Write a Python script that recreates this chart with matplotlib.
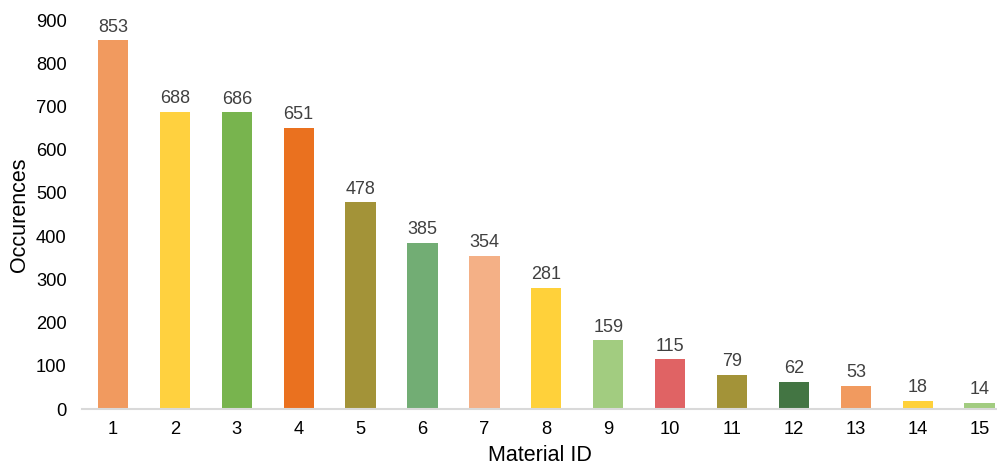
import matplotlib
matplotlib.use("Agg")
import matplotlib.pyplot as plt

plt.rcParams['font.family'] = ['Liberation Sans', 'DejaVu Sans']

material_ids = [str(i) for i in range(1, 16)]
occurrences = [853, 688, 686, 651, 478, 385, 354, 281, 159, 115, 79, 62, 53, 18, 14]
colors = ["#F19A5F", "#FFD13F", "#78B44E", "#EA711F", "#A39338", "#72AD74", "#F4B086",
          "#FFD13A", "#A2CC80", "#E06364", "#A39338", "#437543", "#F19A5F", "#FFD13A", "#A2CC80"]
yticks = [0, 100, 200, 300, 400, 500, 600, 700, 800, 900]

fig = plt.figure(figsize=(9.97, 4.67), dpi=100)
ax = fig.add_axes([82/997, 58/467, 1 - 82/997, (409-20)/467])

x = list(range(1, 16))
bars = ax.bar(x, occurrences, width=0.49, color=colors, edgecolor='none')
for xi, v in zip(x, occurrences):
    ax.text(xi, v + 11, str(v), ha='center', va='bottom', fontsize=13, color='#404040', clip_on=False)

ax.set_xlim(0.5, 15.28)
ax.set_ylim(0, 900)
ax.set_xticks(x)
ax.set_xticklabels(material_ids, fontsize=13.2)
ax.set_yticks(yticks)
ax.set_yticklabels([str(t) for t in yticks], fontsize=13.2)
ax.tick_params(length=0, pad=9)
ax.tick_params(axis='y', pad=11)
for s in ['top', 'right', 'left']:
    ax.spines[s].set_visible(False)
ax.spines['bottom'].set_color('#D9D9D9')
ax.spines['bottom'].set_linewidth(1.5)
ax.set_xlabel('Material ID', fontsize=15.5, labelpad=5)
ax.set_ylabel('Occurences', fontsize=15.5, labelpad=4)

fig.savefig('out.png', dpi=100)
